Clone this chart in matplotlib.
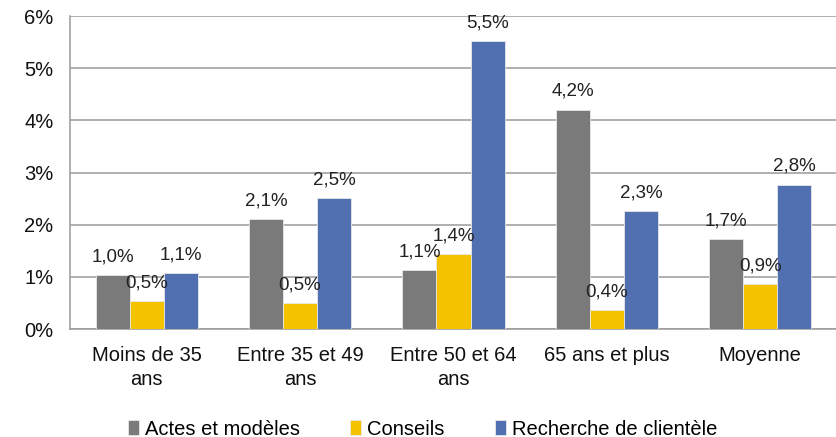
import numpy as np
import matplotlib.pyplot as plt

plt.rcParams['font.family'] = ['Liberation Sans', 'DejaVu Sans']

categories = ['Moins de 35\nans', 'Entre 35 et 49\nans', 'Entre 50 et 64\nans',
              '65 ans et plus', 'Moyenne']
actes = [1.04, 2.11, 1.13, 4.21, 1.72]
conseils = [0.54, 0.50, 1.43, 0.37, 0.86]
recherche = [1.07, 2.51, 5.52, 2.26, 2.77]

series = [('Actes et modèles', actes, '#7a7a7a'),
          ('Conseils', conseils, '#f5c200'),
          ('Recherche de clientèle', recherche, '#5170b2')]

fig = plt.figure(figsize=(8.37, 4.37), dpi=100)
ax = fig.add_axes([0.0836, 0.247, 0.9164, 0.716])

x = np.arange(len(categories))
w = 0.222
for i, (name, vals, col) in enumerate(series):
    pos = x + (i - 1) * w
    ax.bar(pos, vals, width=w, color=col, edgecolor='#e8e8e8', linewidth=0.6,
           label=name, zorder=3)
    for px, v in zip(pos, vals):
        ax.annotate(f'{v:.1f}%'.replace('.', ','), (px, v), xytext=(0, 7),
                    textcoords='offset points', ha='center', va='bottom',
                    fontsize=13.5, color='#222222', zorder=4)

ax.set_xlim(-0.5, 4.5)
ax.set_ylim(0, 6)
ax.set_yticks(range(7))
ax.set_yticklabels([f'{t}%' for t in range(7)])
ax.set_xticks(x)
ax.set_xticklabels(categories, linespacing=1.35)
ax.tick_params(axis='both', length=0, labelsize=14.5, colors='#111111')
ax.tick_params(axis='x', pad=12)
ax.tick_params(axis='y', pad=12)
ax.grid(axis='y', color='#9a9a9a', linewidth=1.1, zorder=0)
for s in ['top', 'right']:
    ax.spines[s].set_visible(False)
for s in ['left', 'bottom']:
    ax.spines[s].set_color('#9a9a9a')
    ax.spines[s].set_linewidth(1.1)

fig.legend(loc='lower center', bbox_to_anchor=(0.505, -0.045), ncol=3, frameon=False,
           fontsize=14.5, handlelength=0.55, handleheight=0.8, handletextpad=0.3,
           columnspacing=2.5)

fig.savefig('out.png', dpi=100)
